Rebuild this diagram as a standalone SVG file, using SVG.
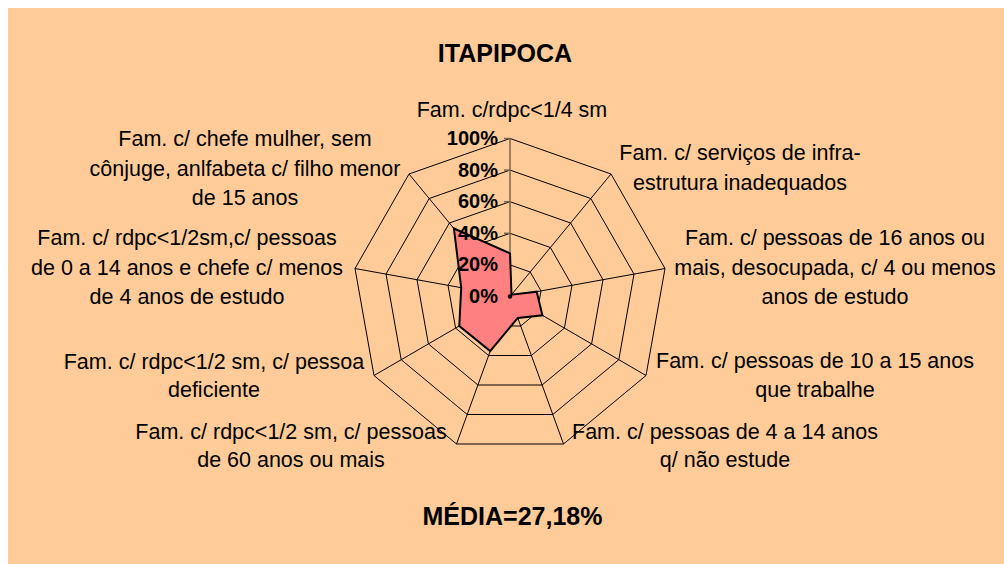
<svg xmlns="http://www.w3.org/2000/svg" width="1004" height="564" viewBox="0 0 1004 564">
<style>
.lbl{font-family:"Liberation Sans",Arial,sans-serif;font-size:21.5px;fill:#000;text-anchor:middle}
.ttl{font-family:"Liberation Sans",Arial,sans-serif;font-size:25px;font-weight:bold;fill:#000;text-anchor:middle}
.pct{font-family:"Liberation Sans",Arial,sans-serif;font-size:20px;font-weight:bold;fill:#000;text-anchor:end}
.ring{fill:none;stroke:#000;stroke-width:1}
.spoke{stroke:#000;stroke-width:1}
.vax{stroke:#7a6650;stroke-width:1.5}
</style>
<rect id="background" x="8" y="8" width="996" height="556" fill="#FFCC99"/>
<text id="title" class="ttl" x="505" y="62">ITAPIPOCA</text>
<g id="grid">
<polygon class="ring" points="510,138.5 611,174 665,268.5 646,375.5 563.5,444 456.5,444 374,375.5 355,268.5 409,174"/>
<polygon class="ring" points="510,170.1 590.8,198.5 634,274.1 618.8,359.7 552.8,414.5 467.2,414.5 401.2,359.7 386,274.1 429.2,198.5"/>
<polygon class="ring" points="510,201.7 570.6,223 603,279.7 591.6,343.9 542.1,385 477.9,385 428.4,343.9 417,279.7 449.4,223"/>
<polygon class="ring" points="510,233.3 550.4,247.5 572,285.3 564.4,328.1 531.4,355.5 488.6,355.5 455.6,328.1 448,285.3 469.6,247.5"/>
<polygon class="ring" points="510,264.9 530.2,272 541,290.9 537.2,312.3 520.7,326 499.3,326 482.8,312.3 479,290.9 489.8,272"/>
</g>
<g id="connectors">
<line class="spoke" x1="510" y1="296.5" x2="611" y2="174"/>
<line class="spoke" x1="510" y1="296.5" x2="665" y2="268.5"/>
<line class="spoke" x1="510" y1="296.5" x2="646" y2="375.5"/>
<line class="spoke" x1="510" y1="296.5" x2="563.5" y2="444"/>
<line class="spoke" x1="510" y1="296.5" x2="456.5" y2="444"/>
<line class="spoke" x1="510" y1="296.5" x2="374" y2="375.5"/>
<line class="spoke" x1="510" y1="296.5" x2="355" y2="268.5"/>
<line class="spoke" x1="510" y1="296.5" x2="409" y2="174"/>
<line class="vax" x1="510" y1="296.5" x2="510" y2="138.5"/>
<g class="vax">
<line x1="504" y1="138.5" x2="510" y2="138.5"/>
<line x1="504" y1="170.1" x2="510" y2="170.1"/>
<line x1="504" y1="201.7" x2="510" y2="201.7"/>
<line x1="504" y1="233.3" x2="510" y2="233.3"/>
<line x1="504" y1="264.9" x2="510" y2="264.9"/>
<line x1="504" y1="296.5" x2="510" y2="296.5"/>
</g>
</g>
<g id="series">
<polygon points="510,253.4 511.5,294.7 536.7,291.7 542.4,315.3 517.8,317.9 490.2,351.1 459.3,326 461.2,287.7 453.9,228.5" fill="#FF8080" stroke="#000" stroke-width="2" stroke-linejoin="miter"/>
<circle cx="510" cy="296.5" r="2.2" fill="#000"/>
</g>
<g id="scale">
<text class="pct" x="498" y="145">100%</text>
<text class="pct" x="498" y="176.6">80%</text>
<text class="pct" x="498" y="208.2">60%</text>
<text class="pct" x="498" y="239.8">40%</text>
<text class="pct" x="498" y="271.4">20%</text>
<text class="pct" x="498" y="303">0%</text>
</g>
<g id="axis1"><text class="lbl" x="512" y="117">Fam. c/rdpc&lt;1/4 sm</text></g>
<g id="axis2"><text class="lbl" x="740" y="160">Fam. c/ serviços de infra-</text><text class="lbl" x="740" y="190">estrutura inadequados</text></g>
<g id="axis3"><text class="lbl" x="835" y="245">Fam. c/ pessoas de 16 anos ou</text><text class="lbl" x="835" y="275">mais, desocupada, c/ 4 ou menos</text><text class="lbl" x="835" y="304">anos de estudo</text></g>
<g id="axis4"><text class="lbl" x="815" y="368">Fam. c/ pessoas de 10 a 15 anos</text><text class="lbl" x="815" y="397">que trabalhe</text></g>
<g id="axis5"><text class="lbl" x="725" y="438.5">Fam. c/ pessoas de 4 a 14 anos</text><text class="lbl" x="725" y="467">q/ não estude</text></g>
<g id="axis6"><text class="lbl" x="291" y="438.5">Fam. c/ rdpc&lt;1/2 sm, c/ pessoas</text><text class="lbl" x="291" y="467">de 60 anos ou mais</text></g>
<g id="axis7"><text class="lbl" x="214" y="368.5">Fam. c/ rdpc&lt;1/2 sm, c/ pessoa</text><text class="lbl" x="214" y="397">deficiente</text></g>
<g id="axis8"><text class="lbl" x="187" y="245">Fam. c/ rdpc&lt;1/2sm,c/ pessoas</text><text class="lbl" x="187" y="274.5">de 0 a 14 anos e chefe c/ menos</text><text class="lbl" x="187" y="303.5">de 4 anos de estudo</text></g>
<g id="axis9"><text class="lbl" x="245" y="146">Fam. c/ chefe mulher, sem</text><text class="lbl" x="245" y="176">cônjuge, anlfabeta c/ filho menor</text><text class="lbl" x="245" y="205">de 15 anos</text></g>
<text id="media" class="ttl" x="512.5" y="525">MÉDIA=27,18%</text>
</svg>
